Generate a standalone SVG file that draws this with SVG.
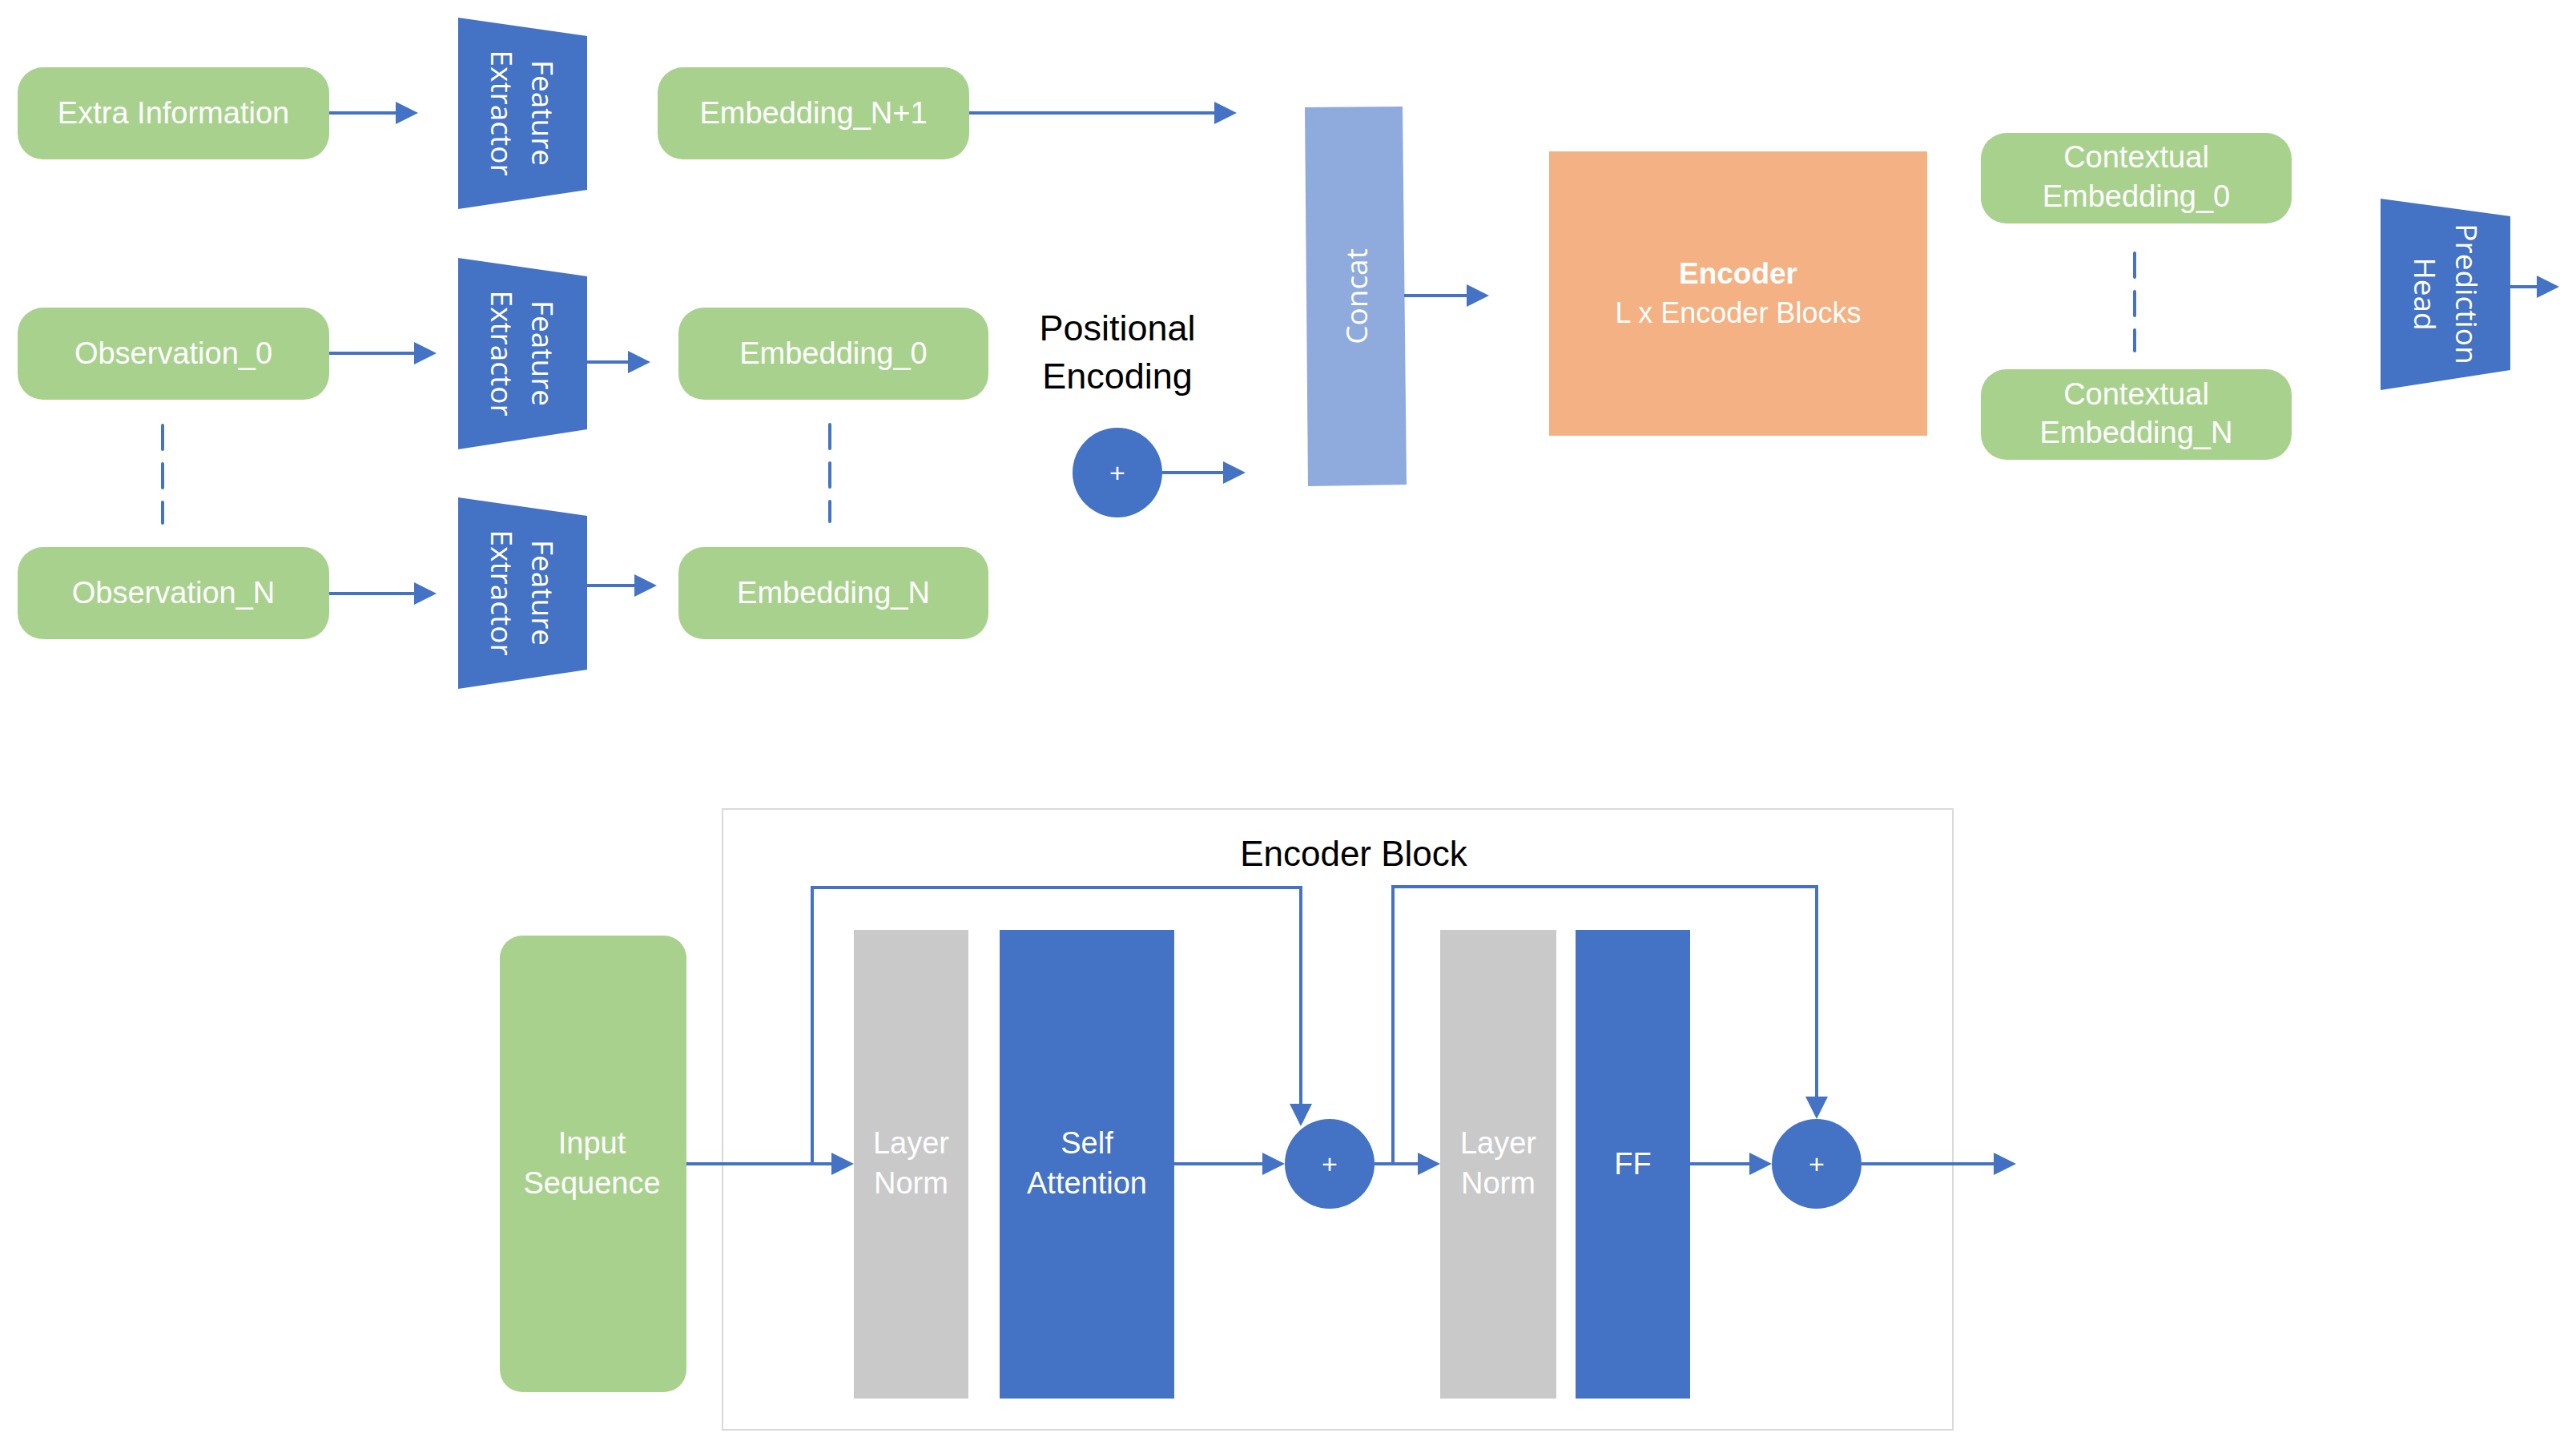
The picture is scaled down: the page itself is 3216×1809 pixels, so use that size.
<svg xmlns="http://www.w3.org/2000/svg" width="3216" height="1809" viewBox="0 0 3216 1809">
<style>
.g{fill:#A9D18E}
.b{fill:#4472C4}
.gr{fill:#C9C9C9}
.t{font-family:"Liberation Sans",Arial,sans-serif;font-size:38px;fill:#fff;text-anchor:middle}
.r{font-family:"Open Sans","DejaVu Sans",sans-serif;font-size:37px;fill:#fff;text-anchor:middle}
.k{font-family:"Liberation Sans",Arial,sans-serif;fill:#000;text-anchor:middle}
.pl{font-family:"Liberation Sans",Arial,sans-serif;font-size:34px;fill:#fff;text-anchor:middle}
.c{fill:none;stroke:#4472C4;stroke-width:4}
.d{fill:none;stroke:#4472C4;stroke-width:4;stroke-dasharray:30 18;stroke-linecap:round}
</style>
<defs>
<marker id="ah" markerUnits="userSpaceOnUse" markerWidth="28" markerHeight="28" refX="2" refY="14" orient="auto">
<path d="M0,0 L28,14 L0,28 z" fill="#4472C4"/>
</marker>
</defs>
<rect width="3216" height="1809" fill="#fff"/>

<g id="extra-info"><rect class="g" x="22" y="84" width="389" height="115" rx="32"/><text class="t" x="216.5" y="154">Extra Information</text></g>
<g id="fe1"><polygon class="b" points="572,22 733,45 733,237 572,261"/><g transform="translate(652,141) rotate(90)"><text class="r" y="-12">Feature</text><text class="r" y="39">Extractor</text></g></g>
<g id="emb-n1"><rect class="g" x="821" y="84" width="389" height="115" rx="32"/><text class="t" x="1015.5" y="154">Embedding_N+1</text></g>

<g id="obs0"><rect class="g" x="22" y="384" width="389" height="115" rx="32"/><text class="t" x="216.5" y="454">Observation_0</text></g>
<g id="fe2"><polygon class="b" points="572,322 733,345 733,536 572,561"/><g transform="translate(652,441) rotate(90)"><text class="r" y="-12">Feature</text><text class="r" y="39">Extractor</text></g></g>
<g id="emb0"><rect class="g" x="847" y="384" width="387" height="115" rx="32"/><text class="t" x="1040.5" y="454">Embedding_0</text></g>

<g id="obsN"><rect class="g" x="22" y="683" width="389" height="115" rx="32"/><text class="t" x="216.5" y="753">Observation_N</text></g>
<g id="fe3"><polygon class="b" points="572,621 733,644 733,836 572,860"/><g transform="translate(652,740) rotate(90)"><text class="r" y="-12">Feature</text><text class="r" y="39">Extractor</text></g></g>
<g id="embN"><rect class="g" x="847" y="683" width="387" height="115" rx="32"/><text class="t" x="1040.5" y="753">Embedding_N</text></g>

<g id="pos-enc"><text class="k" font-size="45" x="1395" y="425">Positional</text><text class="k" font-size="45" x="1395" y="485">Encoding</text>
<circle class="b" cx="1395" cy="590" r="56"/><text class="pl" x="1395" y="602">+</text></g>

<g id="concat"><polygon fill="#8FAADC" points="1629,134 1751,133 1756,605 1633,607"/><g transform="translate(1695,370) rotate(-90)"><text class="r" y="12">Concat</text></g></g>

<g id="encoder"><rect fill="#F4B183" x="1934" y="189" width="472" height="355"/><text class="t" font-weight="bold" x="2170" y="354" style="font-size:37px">Encoder</text><text class="t" x="2170" y="403" style="font-size:36px">L x Encoder Blocks</text></g>

<g id="ctx0"><rect class="g" x="2473" y="166" width="388" height="113" rx="32"/><text class="t" x="2667" y="209">Contextual</text><text class="t" x="2667" y="258">Embedding_0</text></g>
<g id="ctxN"><rect class="g" x="2473" y="461" width="388" height="113" rx="32"/><text class="t" x="2667" y="505">Contextual</text><text class="t" x="2667" y="553">Embedding_N</text></g>

<g id="pred-head"><polygon class="b" points="2972,248 3134,270 3134,462 2972,487"/><g transform="translate(3053,367) rotate(90)"><text class="r" y="-13">Prediction</text><text class="r" y="39">Head</text></g></g>

<g id="encoder-block"><rect x="902" y="1010" width="1536" height="775" fill="#fff" stroke="#D9D9D9" stroke-width="2"/><text class="k" font-size="44" x="1690" y="1081">Encoder Block</text></g>
<g id="input-seq"><rect class="g" x="624" y="1168" width="233" height="570" rx="28"/><text class="t" x="739" y="1440">Input</text><text class="t" x="739" y="1490">Sequence</text></g>
<g id="ln1"><rect class="gr" x="1066" y="1161" width="143" height="585"/><text class="t" x="1137.5" y="1440">Layer</text><text class="t" x="1137.5" y="1490">Norm</text></g>
<g id="self-att"><rect class="b" x="1248" y="1161" width="218" height="585"/><text class="t" x="1357" y="1440">Self</text><text class="t" x="1357" y="1490">Attention</text></g>
<g id="plus1"><circle class="b" cx="1660" cy="1453" r="56"/><text class="pl" x="1660" y="1465">+</text></g>
<g id="ln2"><rect class="gr" x="1798" y="1161" width="145" height="585"/><text class="t" x="1870.5" y="1440">Layer</text><text class="t" x="1870.5" y="1490">Norm</text></g>
<g id="ff"><rect class="b" x="1967" y="1161" width="143" height="585"/><text class="t" x="2038.5" y="1466">FF</text></g>
<g id="plus2"><circle class="b" cx="2268" cy="1453" r="56"/><text class="pl" x="2268" y="1465">+</text></g>

<g id="connectors">
<path class="c" d="M411,141 H496" marker-end="url(#ah)"/>
<path class="c" d="M1210,141 H1518" marker-end="url(#ah)"/>
<path class="c" d="M411,441 H519" marker-end="url(#ah)"/>
<path class="c" d="M733,452 H786" marker-end="url(#ah)"/>
<path class="c" d="M411,741 H519" marker-end="url(#ah)"/>
<path class="c" d="M733,731 H794" marker-end="url(#ah)"/>
<path class="c" d="M1451,590 H1529" marker-end="url(#ah)"/>
<path class="c" d="M1753,369 H1833" marker-end="url(#ah)"/>
<path class="c" d="M3134,358 H3169" marker-end="url(#ah)"/>
<path class="d" d="M203,531 V653"/>
<path class="d" d="M1036,530 V651"/>
<path class="d" d="M2665,316 V438"/>
<path class="c" d="M857,1453 H1040" marker-end="url(#ah)"/>
<path class="c" d="M1014,1453 V1108 H1624 V1380" marker-end="url(#ah)"/>
<path class="c" d="M1466,1453 H1578" marker-end="url(#ah)"/>
<path class="c" d="M1716,1453 H1772" marker-end="url(#ah)"/>
<path class="c" d="M1739,1453 V1107 H2268 V1371" marker-end="url(#ah)"/>
<path class="c" d="M2110,1453 H2186" marker-end="url(#ah)"/>
<path class="c" d="M2324,1453 H2491" marker-end="url(#ah)"/>
</g>
</svg>
